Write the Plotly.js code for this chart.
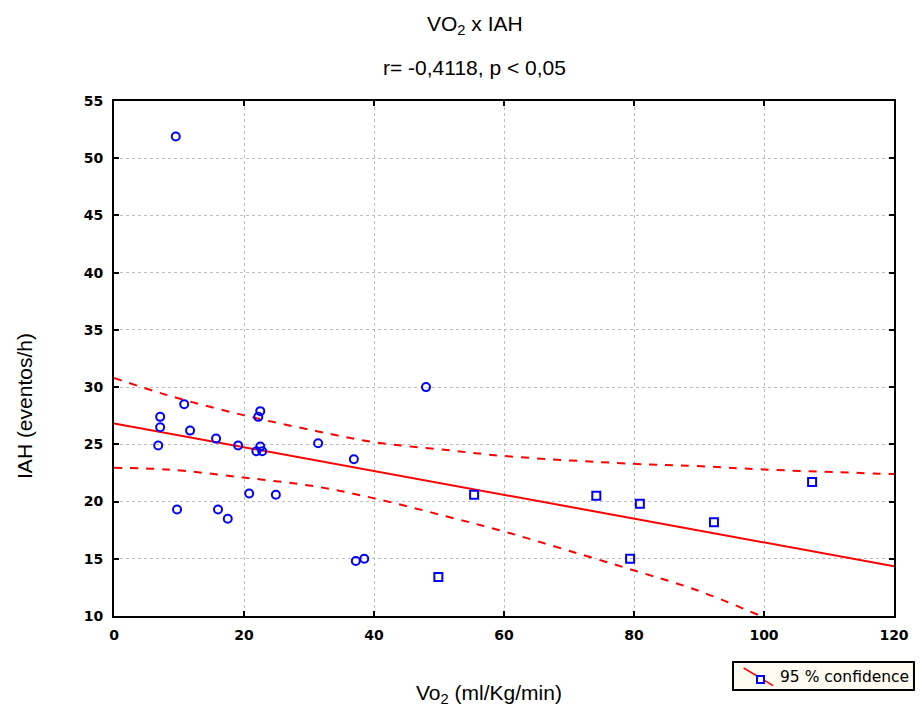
<!DOCTYPE html>
<html>
<head>
<meta charset="utf-8">
<script src="https://cdn.plot.ly/plotly-3.0.1.min.js"></script>
<style>html,body{margin:0;padding:0;background:#fff;}#chart{width:920px;height:709px;}</style>
</head>
<body>
<div id="chart"></div>
<script>
// Observations drawn as circles
var circleVo2 = [9.5, 7.1, 7.1, 6.8, 10.8, 11.7, 15.7, 19.1, 22.5, 22.2, 22.5, 21.9, 22.8, 31.4, 36.9, 48.0, 9.7, 16.0, 17.5, 20.8, 24.9, 37.2, 38.5];
var circleIah = [51.9, 27.4, 26.5, 24.9, 28.5, 26.2, 25.5, 24.9, 27.9, 27.4, 24.8, 24.4, 24.4, 25.1, 23.7, 30.0, 19.3, 19.3, 18.5, 20.7, 20.6, 14.8, 15.0];
// Observations drawn as squares
var squareVo2 = [49.9, 55.4, 74.2, 80.9, 79.4, 92.3, 107.4];
var squareIah = [13.4, 20.6, 20.5, 19.8, 15.0, 18.2, 21.7];
// Regression line
var fitX = [0, 120];
var fitY = [26.83, 14.35];
// 95% confidence bands
var upperX = [0, 8.2, 19.9, 31.2, 39.9, 51.2, 60.2, 79.9, 89.7, 100, 120];
var upperY = [30.8, 29.3, 27.55, 26.15, 25.2, 24.5, 23.97, 23.3, 23.1, 22.8, 22.4];
var lowerX = [0, 8.2, 19.9, 31.2, 39.9, 51.2, 60.2, 69.7, 79.9, 89.7, 99.5];
var lowerY = [22.95, 22.8, 22.1, 21.3, 20.3, 18.7, 17.35, 15.75, 14.0, 12.25, 10.0];
var legendLabel = '95 % confidence';

var red = '#ff0000', blue = '#0000ff';
var traces = [
  {x: upperX, y: upperY, mode: 'lines', line: {color: red, width: 2, dash: '8px,8px', shape: 'spline'}, showlegend: false, hoverinfo: 'skip'},
  {x: lowerX, y: lowerY, mode: 'lines', line: {color: red, width: 2, dash: '8px,8px', shape: 'spline'}, showlegend: false, hoverinfo: 'skip'},
  {x: fitX, y: fitY, mode: 'lines', line: {color: red, width: 2}, showlegend: false},
  {x: circleVo2, y: circleIah, mode: 'markers', marker: {symbol: 'circle-open', size: 8, color: blue, line: {width: 2, color: blue}}, showlegend: false},
  {x: squareVo2, y: squareIah, mode: 'markers', marker: {symbol: 'square-open', size: 8, color: blue, line: {width: 2, color: blue}}, showlegend: false}
];

var tickFont = {family: 'DejaVu Sans, sans-serif', size: 14, weight: 'bold', color: '#000'};
var axisCommon = {
  showline: true, linecolor: '#000', linewidth: 2, mirror: 'ticks',
  ticks: 'inside', ticklen: 5, tickwidth: 2, tickcolor: '#000',
  showgrid: true, gridcolor: '#bdbdbd', griddash: 'dot', gridwidth: 1,
  zeroline: false, automargin: false,
  tickfont: tickFont
};
var titleFont = {family: 'Liberation Sans, Arial, sans-serif', size: 21, color: '#000'};

var layout = {
  width: 920, height: 709,
  margin: {l: 114, r: 26, t: 101, b: 93},
  paper_bgcolor: '#fff', plot_bgcolor: '#fff',
  font: {family: 'Liberation Sans, Arial, sans-serif', color: '#000'},
  xaxis: Object.assign({}, axisCommon, {range: [0, 120], dtick: 20, ticklabelstandoff: 5}),
  yaxis: Object.assign({}, axisCommon, {range: [10, 55], dtick: 5, ticklabelstandoff: 6}),
  showlegend: false,
  shapes: [
    // legend box
    {type: 'rect', xref: 'paper', yref: 'paper', x0: 0.7936, x1: 1.0256, y0: -0.0893, y1: -0.1437, fillcolor: '#fffaf0', line: {color: '#000', width: 2}, layer: 'above'},
    {type: 'line', xref: 'paper', yref: 'paper', x0: 0.8072, x1: 0.8449, y0: -0.1010, y1: -0.1350, line: {color: red, width: 1.5}, layer: 'above'},
    {type: 'rect', xref: 'paper', yref: 'paper', x0: 0.8244, x1: 0.8333, y0: -0.1165, y1: -0.1301, fillcolor: '#fffaf0', line: {color: blue, width: 2}, layer: 'above'}
  ],
  annotations: [
    {text: 'VO<sub>2</sub> x IAH', xref: 'paper', yref: 'paper', x: 0.4628, y: 1.1476, xanchor: 'center', yanchor: 'middle', showarrow: false, font: titleFont},
    {text: 'r= -0,4118, p &lt; 0,05', xref: 'paper', yref: 'paper', x: 0.4628, y: 1.066, xanchor: 'center', yanchor: 'middle', showarrow: false, font: titleFont},
    {text: 'Vo<sub>2</sub> (ml/Kg/min)', xref: 'paper', yref: 'paper', x: 0.4808, y: -0.1515, xanchor: 'center', yanchor: 'middle', showarrow: false, font: titleFont},
    {text: 'IAH (eventos/h)', xref: 'paper', yref: 'paper', x: -0.114, y: 0.408, xanchor: 'center', yanchor: 'middle', textangle: -90, showarrow: false, font: titleFont},
    {text: legendLabel, xref: 'paper', yref: 'paper', x: 0.8513, y: -0.1175, xanchor: 'left', yanchor: 'middle', showarrow: false, font: {family: 'DejaVu Sans, sans-serif', size: 15.5, color: '#000'}}
  ]
};

Plotly.newPlot('chart', traces, layout, {displayModeBar: false, staticPlot: true});
</script>
</body>
</html>
